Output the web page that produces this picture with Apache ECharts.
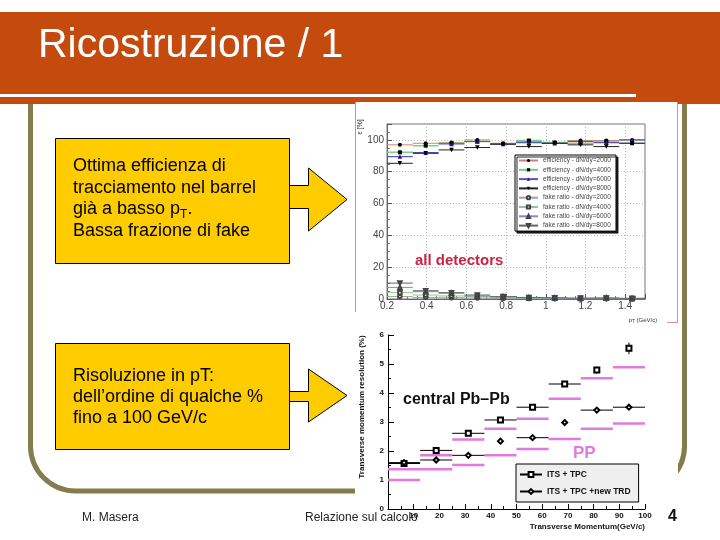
<!DOCTYPE html>
<html><head><meta charset="utf-8">
<script src="https://cdn.jsdelivr.net/npm/echarts@6/dist/echarts.min.js"></script>
<style>html,body{margin:0;padding:0;background:#fff}#c{width:720px;height:540px}</style>
</head><body><div id="c"></div>
<script>
// ---------- Chart 1: tracking efficiency / fake ratio vs pT ----------
const effBinCenters = [0.265,0.395,0.525,0.655,0.785,0.915,1.045,1.175,1.305,1.435];
const effBinHalfWidth = 0.065;
const eff2000 = [96.9,97.9,98.3,100,97.9,99,98.3,99.6,99.6,100];
const eff4000 = [92.2,96.4,97.9,99,97.5,99.6,98.3,97.9,99,97.9];
const eff6000 = [89.5,92,97.5,99,97.5,98.3,97.9,99,98.3,100];
const eff8000 = [85.3,91.6,93.7,95.2,97.3,95.8,97.9,96.9,95.8,97.9];
const fake2000 = [1.5,1,0.8,0.6,0.4,0.3,0.2,0.2,0.2,0.1];
const fake4000 = [4,2.5,1.9,1.5,0.8,0.5,0.4,0.3,0.4,0.2];
const fake6000 = [7.3,4.6,3.6,1.9,1.3,0.8,0.6,0.4,0.6,0.4];
const fake8000 = [10,5.2,4,2.5,1.5,1,0.8,0.6,0.6,0.4];
const effNames = ['efficiency - dN/dy=2000','efficiency - dN/dy=4000','efficiency - dN/dy=6000','efficiency - dN/dy=8000'];
const fakeNames = ['fake ratio - dN/dy=2000','fake ratio - dN/dy=4000','fake ratio - dN/dy=6000','fake ratio - dN/dy=8000'];

// ---------- Chart 2: pT resolution ----------
const resBinCenters = [6.25,18.75,31.25,43.75,56.25,68.75,81.25,93.75];
const itsTpc = [1.57,2.02,2.61,3.07,3.51,4.31,4.79,5.54];
const itsTpcXErr = [6.25,6.25,6.25,6.25,6.25,6.25,0,0];
const itsTpcYErr = [0,0,0,0,0,0,0.12,0.2];
const itsTpcTrd = [1.6,1.69,1.85,2.34,2.46,2.98,3.41,3.51];
const itsTpcTrdXErr = [6.25,6.25,6.25,0,6.25,0,6.25,6.25];
const ppLow = [1.0,1.37,1.52,1.85,2.07,2.41,2.77,2.95];
const ppHigh = [1.37,1.85,2.40,2.77,3.11,3.80,4.51,4.89];
const ppHalfWidth = 6.25;
const resNames = ['ITS + TPC','ITS + TPC +new TRD'];

function binned(centers, vals, xerr) {
  const d = [];
  centers.forEach((c, i) => {
    const e = Array.isArray(xerr) ? xerr[i] : xerr;
    if (e > 0) d.push({value: [c - e, vals[i]], symbol: 'none'});
    d.push({value: [c, vals[i]]});
    if (e > 0) d.push({value: [c + e, vals[i]], symbol: 'none'});
    d.push(['-', '-']);
  });
  return d;
}
function vbars(centers, vals, yerr) {
  const d = [];
  centers.forEach((c, i) => {
    if (yerr[i] > 0) { d.push([c, vals[i] - yerr[i]], [c, vals[i] + yerr[i]], ['-', '-']); }
  });
  return d;
}
function binSeries(name, data, ax, lineColor, lineWidth, symbol, symbolSize, symColor, rot, bw) {
  const s = {type: 'line', data, xAxisIndex: ax, yAxisIndex: ax,
    symbol, symbolSize, symbolRotate: rot || 0, showSymbol: true, showAllSymbol: true,
    connectNulls: false, lineStyle: {color: lineColor, width: lineWidth},
    itemStyle: {color: symColor, borderColor: symColor, borderWidth: bw == null ? 1 : bw},
    emphasis: {disabled: true}, silent: true, animation: false, z: 10};
  if (name) s.name = name;
  return s;
}

const FONT = '"Liberation Sans", Arial, sans-serif';
const olive = '#837c4c';
const yellow = '#ffcc00';
const pink = '#e27ae2';

const series = [
  binSeries(effNames[0], binned(effBinCenters, eff2000, effBinHalfWidth), 0, '#d08070', 1, 'circle', 4, '#000', 0, 0),
  binSeries(effNames[1], binned(effBinCenters, eff4000, effBinHalfWidth), 0, '#7ccf7c', 1.5, 'rect', 4, '#000', 0, 0),
  binSeries(effNames[2], binned(effBinCenters, eff6000, effBinHalfWidth), 0, '#5656c8', 1.2, 'triangle', 4.5, '#1a1a80', 0, 0),
  binSeries(effNames[3], binned(effBinCenters, eff8000, effBinHalfWidth), 0, '#222', 1, 'triangle', 4.5, '#000', 180, 0),
  binSeries(fakeNames[0], binned(effBinCenters, fake2000, effBinHalfWidth), 0, '#a0a0a0', 1, 'emptyCircle', 3.5, '#444'),
  binSeries(fakeNames[1], binned(effBinCenters, fake4000, effBinHalfWidth), 0, '#8cc88c', 1, 'emptyRect', 3.5, '#444'),
  binSeries(fakeNames[2], binned(effBinCenters, fake6000, effBinHalfWidth), 0, '#8888c8', 1, 'emptyTriangle', 3.5, '#444'),
  binSeries(fakeNames[3], binned(effBinCenters, fake8000, effBinHalfWidth), 0, '#666', 1, 'emptyTriangle', 3.5, '#444', 180),
  binSeries(null, binned(resBinCenters, ppLow, ppHalfWidth), 1, pink, 2.5, 'none', 0, pink),
  binSeries(null, binned(resBinCenters, ppHigh, ppHalfWidth), 1, pink, 2.5, 'none', 0, pink),
  binSeries(resNames[0], binned(resBinCenters, itsTpc, itsTpcXErr), 1, '#000', 1, 'emptyRect', 5, '#000'),
  binSeries(resNames[1], binned(resBinCenters, itsTpcTrd, itsTpcTrdXErr), 1, '#000', 1, 'emptyDiamond', 5, '#000'),
  binSeries(null, vbars(resBinCenters, itsTpc, itsTpcYErr), 1, '#000', 1, 'none', 0, '#000')
];

function txt(text, x, y, font, fill, extra) {
  return Object.assign({type: 'text', x, y, z: 30, silent: true,
    style: {text, font, fill: fill || '#000', textAlign: 'left', verticalAlign: 'middle'}}, extra || {});
}

const graphic = [
  {type: 'rect', z: 0, silent: true, shape: {x: 30.5, y: 60, width: 654, height: 431, r: 45},
   style: {fill: 'none', stroke: olive, lineWidth: 5}},
  {type: 'rect', z: 1, silent: true, shape: {x: 0, y: 12, width: 720, height: 92}, style: {fill: '#c54a0d'}},
  {type: 'rect', z: 1, silent: true, shape: {x: 0, y: 94, width: 636, height: 3}, style: {fill: '#fff'}},
  {type: 'rect', z: 1, silent: true, shape: {x: 355, y: 102, width: 323, height: 438}, style: {fill: '#fff'}},
  {type: 'polyline', z: 2, silent: true, shape: {points: [[355.5, 102], [355.5, 312]]}, style: {stroke: '#d98c8c', lineWidth: 1}},
  {type: 'polyline', z: 2, silent: true, shape: {points: [[677.5, 102], [677.5, 322.5], [667, 322.5]]}, style: {stroke: '#d98c8c', lineWidth: 1, fill: 'none'}},
  // yellow boxes + arrows
  {type: 'rect', z: 2, silent: true, shape: {x: 55.5, y: 138.5, width: 234, height: 125}, style: {fill: yellow, stroke: '#000', lineWidth: 1}},
  {type: 'polygon', z: 2, silent: true, shape: {points: [[289.5,185.5],[308.5,185.5],[308.5,168],[347,199.5],[308.5,231],[308.5,208.5],[289.5,208.5]]}, style: {fill: yellow, stroke: '#000', lineWidth: 1}},
  {type: 'rect', z: 2, silent: true, shape: {x: 55.5, y: 343.5, width: 234, height: 106}, style: {fill: yellow, stroke: '#000', lineWidth: 1}},
  {type: 'polygon', z: 2, silent: true, shape: {points: [[289.5,391.5],[308.5,391.5],[308.5,369],[347,395.5],[308.5,422],[308.5,401.5],[289.5,401.5]]}, style: {fill: yellow, stroke: '#000', lineWidth: 1}},
  // title
  txt('Ricostruzione / 1', 38, 46, '41px ' + FONT, '#fff'),
  // box texts
  txt('Ottima efficienza di', 73, 166.5, '18px ' + FONT),
  txt('tracciamento nel barrel', 73, 188, '18px ' + FONT),
  {type: 'text', x: 73, y: 209.5, z: 30, silent: true, style: {
    text: '{n|già a basso p}{s|T}{n|.}', textAlign: 'left', verticalAlign: 'middle',
    rich: {n: {fontSize: 18, fontFamily: FONT, fill: '#000', lineHeight: 22},
           s: {fontSize: 12, fontFamily: FONT, fill: '#000', lineHeight: 12, verticalAlign: 'bottom'}}}},
  txt('Bassa frazione di fake', 73, 231, '18px ' + FONT),
  txt('Risoluzione in pT:', 73, 376, '18px ' + FONT),
  txt('dell\u2019ordine di qualche %', 73, 397, '18px ' + FONT),
  txt('fino a 100 GeV/c', 73, 418.5, '18px ' + FONT),
  // footer
  txt('M. Masera', 82, 518, '12px ' + FONT, '#222'),
  txt('Relazione sul calcolo', 305, 518, '12px ' + FONT, '#222'),
  txt('4', 668, 517, 'bold 16px ' + FONT, '#111'),
  // chart 1 annotations
  txt('all detectors', 415, 261, 'bold 15px ' + FONT, '#cc2244'),
  {type: 'text', x: 360, y: 127, z: 30, silent: true, rotation: Math.PI / 2,
   style: {text: '\u03b5 [%]', font: '7px ' + FONT, fill: '#333', textAlign: 'center', verticalAlign: 'middle'}},
  {type: 'text', x: 643, y: 320, z: 30, silent: true, style: {
    text: '{a|p}{b|T}{a| (GeV/c)}', textAlign: 'center', verticalAlign: 'middle',
    rich: {a: {fontSize: 6, fontFamily: FONT, fill: '#333', lineHeight: 8}, b: {fontSize: 4.5, fontFamily: FONT, fill: '#333', lineHeight: 5, verticalAlign: 'bottom'}}}},
  // chart 2 annotations
  txt('central Pb\u2013Pb', 403, 400, 'bold 16px ' + FONT, '#111'),
  txt('PP', 573, 453, 'bold 17px ' + FONT, pink),
  {type: 'text', x: 362, y: 407, z: 30, silent: true, rotation: Math.PI / 2,
   style: {text: 'Transverse momentum resolution (%)', font: 'bold 8px ' + FONT, fill: '#111', textAlign: 'center', verticalAlign: 'middle'}},
  {type: 'text', x: 645, y: 527, z: 30, silent: true,
   style: {text: 'Transverse Momentum(GeV/c)', font: 'bold 8px ' + FONT, fill: '#111', textAlign: 'right', verticalAlign: 'middle'}}
];

const option = {
  animation: false,
  backgroundColor: '#fff',
  graphic: graphic,
  grid: [
    {left: 387, top: 124, width: 258, height: 175, show: true, borderColor: '#777', borderWidth: 1, backgroundColor: 'transparent', z: 5},
    {left: 388, top: 335, width: 257, height: 174, show: false, z: 5}
  ],
  xAxis: [
    {type: 'value', gridIndex: 0, min: 0.2, max: 1.5, interval: 0.2, z: 8,
     axisLine: {show: true, lineStyle: {color: '#666'}},
     axisTick: {show: true, inside: true, length: 5, lineStyle: {color: '#555'}},
     minorTick: {show: true, splitNumber: 4, length: 3, lineStyle: {color: '#777'}},
     axisLabel: {fontSize: 10, color: '#444', fontFamily: FONT, margin: 2, showMaxLabel: false, hideOverlap: false},
     splitLine: {show: true, lineStyle: {color: '#b8b8b8', type: [1, 2]}}},
    {type: 'value', gridIndex: 1, min: 0, max: 100, interval: 10, z: 8,
     axisLine: {show: true, lineStyle: {color: '#000'}},
     axisTick: {show: true, inside: true, length: 5, lineStyle: {color: '#000'}},
     minorTick: {show: true, splitNumber: 2, length: 3, lineStyle: {color: '#000'}},
     axisLabel: {fontSize: 8, fontWeight: 'bold', color: '#111', fontFamily: FONT, margin: 3, showMinLabel: false, hideOverlap: false},
     splitLine: {show: false}}
  ],
  yAxis: [
    {type: 'value', gridIndex: 0, min: 0, max: 110, interval: 20, z: 8,
     axisLine: {show: true, lineStyle: {color: '#666'}},
     axisTick: {show: true, inside: true, length: 5, lineStyle: {color: '#555'}},
     minorTick: {show: true, splitNumber: 4, length: 3, lineStyle: {color: '#777'}},
     axisLabel: {fontSize: 10, color: '#444', fontFamily: FONT, margin: 3, showMaxLabel: false, hideOverlap: false},
     splitLine: {show: true, lineStyle: {color: '#b8b8b8', type: [1, 2]}}},
    {type: 'value', gridIndex: 1, min: 0, max: 6, interval: 1, z: 8,
     axisLine: {show: true, lineStyle: {color: '#000'}},
     axisTick: {show: true, inside: true, length: 6, lineStyle: {color: '#000'}},
     minorTick: {show: true, splitNumber: 2, length: 3, lineStyle: {color: '#000'}},
     axisLabel: {fontSize: 8, fontWeight: 'bold', color: '#111', fontFamily: FONT, margin: 4, hideOverlap: false},
     splitLine: {show: false}}
  ],
  legend: [
    {data: effNames.concat(fakeNames), orient: 'vertical', left: 515, top: 155, z: 12,
     selectedMode: false, itemWidth: 19, itemHeight: 4, itemGap: 2.3, padding: [2, 5, 2, 3],
     backgroundColor: '#fff', borderColor: '#000', borderWidth: 1,
     shadowColor: 'rgba(0,0,0,0.85)', shadowOffsetX: 2, shadowOffsetY: 2, shadowBlur: 0,
     textStyle: {fontSize: 6.5, color: '#444', fontFamily: FONT, lineHeight: 7}},
    {data: resNames, orient: 'vertical', left: 516, top: 464, z: 12,
     selectedMode: false, itemWidth: 22, itemHeight: 6, itemGap: 8, padding: [6, 8, 6, 3],
     backgroundColor: '#efefef', borderColor: '#000', borderWidth: 1,
     textStyle: {fontSize: 8.5, fontWeight: 'bold', color: '#111', fontFamily: FONT, lineHeight: 9}}
  ],
  series: series
};

const chart = echarts.init(document.getElementById('c'), null, {renderer: 'canvas', width: 720, height: 540});
chart.setOption(option);
</script>
</body></html>
